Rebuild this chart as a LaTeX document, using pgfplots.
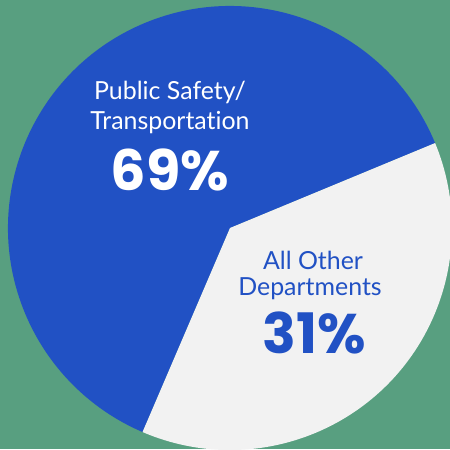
\documentclass[border=0pt]{standalone}
\usepackage{fontspec}
\setmainfont{Lato}[Ligatures=NoCommon]
\newfontfamily\numfont{Poppins}
\usepackage{pgfplots}
\pgfplotsset{compat=1.18}
\definecolor{bg}{RGB}{88,159,128}
\definecolor{pieblue}{RGB}{33,81,196}
\definecolor{piewhite}{RGB}{242,242,242}
\begin{document}
\begin{tikzpicture}
\begin{axis}[
  width=450bp, height=449bp, scale only axis,
  xmin=0, xmax=450, ymin=0, ymax=449,
  hide axis, clip=true,
]
% background
\fill[bg] (axis cs:0,0) rectangle (axis cs:450,449);
% slices: start angle, end angle (degrees), centre (230,221), radius 222
\fill[pieblue] (axis cs:230,221) -- ++(22.5:222bp) arc[start angle=22.5, end angle=246.8, radius=222bp] -- cycle;
\fill[piewhite] (axis cs:230,221) -- ++(246.8:222bp) arc[start angle=246.8, end angle=382.5, radius=222bp] -- cycle;
% labels
\node[anchor=base, text=white, font=\fontsize{25}{30}\selectfont] at (axis cs:170,349) {Public Safety/};
\node[anchor=base, text=white, font=\fontsize{25}{30}\selectfont] at (axis cs:170,319) {Transportation};
\node[anchor=base, text=white, font=\numfont\fontsize{56}{60}\selectfont\bfseries] at (axis cs:170,259) {69\%};
\node[anchor=base, text=pieblue, font=\fontsize{25}{30}\selectfont] at (axis cs:313,180) {All Other};
\node[anchor=base, text=pieblue, font=\fontsize{25}{30}\selectfont] at (axis cs:310,154) {Departments};
\node[anchor=base, text=pieblue, font=\numfont\fontsize{56}{60}\selectfont\bfseries] at (axis cs:314,96) {31\%};
\end{axis}
\pgfresetboundingbox
\useasboundingbox (current axis.south west) rectangle (current axis.north east);
\end{tikzpicture}
\end{document}
